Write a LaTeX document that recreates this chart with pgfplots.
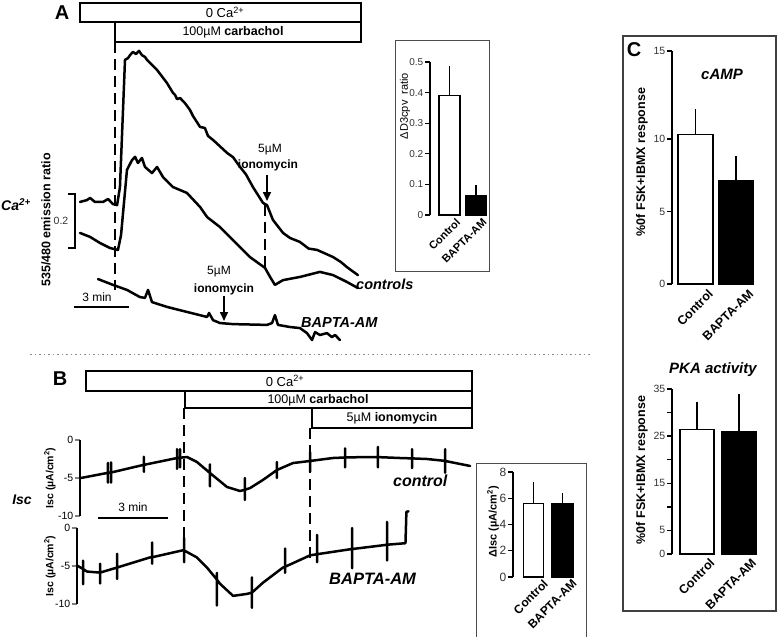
\documentclass[border=0pt]{standalone}
\usepackage{pgfplots}
\pgfplotsset{compat=1.18}
\usepackage{fontspec}
\setmainfont{Liberation Sans}
\usetikzlibrary{arrows.meta}
\newcommand{\fs}[1]{\fontsize{#1pt}{#1pt}\selectfont}

\pgfplotsset{
  trace/.style={scale only axis, axis lines=none, clip=false},
  tr/.style={black, line width=2.5pt, line join=round, line cap=round, no marks},
  baraxis/.style={scale only axis, anchor=south west, clip=false,
    axis y line*=left, axis x line*=bottom, x axis line style={draw=none},
    y axis line style={line width=1.5pt, black}, xtick style={draw=none},
    ytick style={line width=1.3pt, black}, tick align=outside, major tick length=5pt,
    y tick label style={font=\fs{10.5}, text=black!80, inner sep=1.5pt},
    xtick={1,2}, xticklabels={Control,BAPTA-AM}},
  xl/.style n args={3}{x tick label style={xshift=#1, yshift=#2, rotate=45, anchor=north east, font=\fs{#3}\bfseries, inner sep=1pt}},
  wbar/.style={ybar, bar shift=0pt, fill=white, draw=black, line width=1.6pt,
    error bars/y dir=plus, error bars/y explicit,
    error bars/error bar style={line width=1.6pt, black},
    error bars/error mark options={line width=1.6pt, black, mark size=#1}},
  wbar/.default=5.5pt,
  bbar/.style={ybar, bar shift=0pt, fill=black, draw=black, line width=1.6pt,
    error bars/y dir=plus, error bars/y explicit,
    error bars/error bar style={line width=1.6pt, black},
    error bars/error mark options={line width=1.6pt, black, mark size=#1}},
  bbar/.default=5.5pt,
  iscaxis/.style={scale only axis, anchor=south west, clip=false,
    axis y line*=left, axis x line=none, y axis line style={line width=1.5pt},
    ytick={-10,-5,0}, yticklabels={-10,-5,0}, tick align=outside, major tick length=5pt,
    ytick style={line width=1.3pt}, y tick label style={font=\fs{10.5}, inner sep=1.5pt}},
}

\begin{document}
\begin{tikzpicture}[x=1pt,y=1pt]
\path[use as bounding box] (0,0) rectangle (777,-637);

% ================= Panel A =================
\node[font=\fs{20}\bfseries] at (62,-13) {A};
\draw[line width=1.4pt] (80,-3) rectangle (361,-22);
\draw[line width=1.4pt] (115,-22) rectangle (361,-42);
\node[font=\fs{13}] at (225,-12.5) {0 Ca\textsuperscript{2+}};
\node[font=\fs{12.5}] at (233,-32) {100µM \textbf{carbachol}};
\draw[line width=1.3pt, dash pattern=on 11pt off 6pt] (115,-42) -- (115,-290);
\draw[line width=1.3pt, dash pattern=on 11pt off 6pt] (265,-205) -- (265,-268);

\begin{axis}[trace, at={(60pt,-350pt)}, anchor=south west, width=320pt, height=310pt,
  xmin=-1.111, xmax=16.667, ymin=-0.0377, ymax=1.132]
\addplot[tr] coordinates {(0.00,0.521) (0.39,0.528) (0.56,0.536) (0.83,0.521) (1.28,0.521) (1.56,0.532) (1.83,0.513) (2.06,0.509) (2.22,0.577) (2.50,1.057) (2.67,1.064) (2.78,1.075) (2.94,1.087) (3.11,1.079) (3.28,1.091) (3.44,1.075) (3.61,1.068) (3.72,1.057) (4.28,1.019) (4.83,0.970) (5.17,0.932) (5.28,0.925) (5.39,0.909) (5.56,0.913) (5.83,0.894) (6.11,0.868) (6.28,0.845) (6.67,0.804) (6.94,0.800) (7.11,0.770) (7.39,0.755) (8.17,0.706) (8.50,0.690) (8.89,0.653) (9.22,0.625) (9.61,0.577) (10.17,0.517) (10.39,0.509) (10.72,0.453) (11.28,0.404) (11.67,0.385) (12.22,0.370) (12.70,0.345) (13.17,0.340) (14.06,0.313) (14.50,0.294) (14.83,0.275) (15.44,0.245)};
\addplot[tr] coordinates {(0.00,0.404) (0.56,0.389) (1.11,0.366) (1.67,0.347) (2.11,0.340) (2.28,0.396) (2.61,0.642) (2.89,0.679) (3.06,0.691) (3.22,0.668) (3.44,0.687) (3.61,0.653) (4.00,0.630) (4.28,0.653) (4.61,0.615) (5.17,0.577) (5.94,0.555) (6.67,0.502) (7.06,0.464) (7.78,0.426) (8.50,0.377) (9.44,0.313) (10.28,0.272) (10.56,0.238) (10.83,0.208) (11.28,0.226) (12.22,0.238) (13.33,0.257) (14.06,0.245) (14.83,0.219) (15.44,0.196)};
\addplot[tr] coordinates {(1.00,0.230) (1.83,0.208) (2.61,0.189) (3.33,0.162) (3.61,0.159) (3.78,0.189) (4.00,0.143) (4.83,0.125) (5.94,0.106) (7.06,0.087) (7.17,0.102) (7.39,0.075) (7.78,0.064) (8.50,0.060) (10.39,0.057) (10.67,0.064) (10.83,0.094) (11.00,0.057) (11.67,0.049) (12.22,0.045) (12.61,0.026) (12.89,0.000) (13.06,0.030) (13.33,0.019) (13.72,0.026) (14.00,0.011) (14.17,0.019) (14.44,0.000)};
\end{axis}

\node[font=\fs{12}] at (270,-150) {5µM};
\node[font=\fs{12}\bfseries] at (268,-165) {ionomycin};
\draw[line width=1.6pt, -{Triangle[length=9pt,width=8pt]}] (267,-175) -- (267,-201);
\node[font=\fs{12}] at (219,-272) {5µM};
\node[font=\fs{12}\bfseries] at (224,-289) {ionomycin};
\draw[line width=1.6pt, -{Triangle[length=9pt,width=8pt]}] (224,-296) -- (224,-321);
\node[font=\fs{14.5}\bfseries\itshape, anchor=west, inner sep=0pt] at (356,-284) {controls};
\node[font=\fs{14.5}\bfseries\itshape, anchor=west, inner sep=0pt] at (301,-323) {BAPTA-AM};
\node[font=\fs{12}] at (97,-297) {3 min};
\draw[line width=2pt] (74,-307) -- (129,-307);
\draw[line width=1.4pt] (68,-194) -- (75,-194) -- (75,-248) -- (68,-248);
\node[font=\fs{10.5}, text=black!80] at (61,-221) {0.2};
\node[font=\fs{14}\bfseries\itshape, anchor=west, inner sep=0pt] at (1,-205) {Ca\textsuperscript{2+}};
\node[font=\fs{12.5}\bfseries, rotate=90] at (46,-220) {535/480 emission ratio};

% inset A
\draw[line width=1pt, black!70] (395,-40) rectangle (489,-271);
\node[font=\fs{11}, rotate=90] at (405,-106) {ΔD3cpv\ \ ratio};
\begin{axis}[baraxis, at={(430pt,-215pt)}, width=60pt, height=153pt,
  xmin=0.264, xmax=2.53, ymin=0, ymax=0.5,
  ytick={0,0.1,0.2,0.3,0.4,0.5}, yticklabels={0,0.1,0.2,0.3,0.4,0.5},
  y tick label style={font=\fs{10}}, xl={6pt}{4pt}{11}]
\addplot[wbar=5pt, bar width=21pt] coordinates {(1,0.39) +- (0,0.08)};
\addplot[bbar=5pt, bar width=21pt] coordinates {(2,0.062) +- (0,0.02)};
\end{axis}

% separator
\draw[black!45, line width=0.8pt, dash pattern=on 1.5pt off 3pt] (30,-354) -- (590,-354);

% ================= Panel B =================
\node[font=\fs{20}\bfseries] at (60,-379) {B};
\draw[line width=1.4pt] (86,-371) rectangle (472,-391);
\draw[line width=1.4pt] (185,-391) rectangle (472,-408);
\draw[line width=1.4pt] (312,-408) rectangle (472,-428);
\node[font=\fs{13}] at (285,-381) {0 Ca\textsuperscript{2+}};
\node[font=\fs{12.5}] at (318,-400) {100µM \textbf{carbachol}};
\node[font=\fs{12.5}] at (392,-418) {5µM \textbf{ionomycin}};
\draw[line width=1.3pt, dash pattern=on 11pt off 6pt] (184,-408) -- (184,-560);
\draw[line width=1.3pt, dash pattern=on 11pt off 6pt] (310,-428) -- (310,-562);

\begin{axis}[iscaxis, at={(80pt,-516pt)}, width=395pt, height=76pt,
  xmin=0, xmax=16.93, ymin=-10, ymax=0]
\addplot[tr] coordinates {(0.04,-5.0) (1.16,-4.34)
 (1.20,-4.33) (1.20,-3.0) (1.20,-5.6) (1.20,-4.33)
 (1.33,-4.28) (1.33,-2.95) (1.33,-5.6) (1.33,-4.28)
 (2.70,-3.29)
 (2.74,-3.27) (2.74,-2.2) (2.74,-4.2) (2.74,-3.27)
 (4.16,-2.37) (4.16,-1.2) (4.16,-3.8) (4.16,-2.37)
 (4.29,-2.33) (4.29,-1.2) (4.29,-3.6) (4.29,-2.33)
 (4.59,-2.24) (5.01,-2.89)
 (5.57,-4.34) (5.57,-3.2) (5.57,-6.1) (5.57,-4.34)
 (6.30,-6.18) (6.86,-6.71)
 (7.07,-6.55) (7.07,-5.0) (7.07,-7.9) (7.07,-6.55)
 (7.29,-6.32) (7.84,-5.26)
 (8.44,-3.95) (8.44,-2.9) (8.44,-5.0) (8.44,-3.95)
 (9.13,-3.03)
 (9.86,-2.76) (9.86,-1.6) (9.86,-4.2) (9.86,-2.76)
 (10.84,-2.37)
 (11.36,-2.3) (11.36,-1.1) (11.36,-3.6) (11.36,-2.3)
 (12.30,-2.24)
 (12.77,-2.25) (12.77,-0.9) (12.77,-3.6) (12.77,-2.25)
 (13.72,-2.37)
 (14.23,-2.42) (14.23,-1.2) (14.23,-3.7) (14.23,-2.42)
 (14.87,-2.50)
 (15.65,-2.75) (15.65,-1.2) (15.65,-4.3) (15.65,-2.75)
 (15.86,-2.89) (16.72,-3.42)};
\end{axis}

\begin{axis}[iscaxis, at={(77pt,-604pt)}, width=398pt, height=76pt,
  xmin=-0.129, xmax=16.93, ymin=-10, ymax=0]
\addplot[tr] coordinates {(-0.13,-4.93)
 (0.13,-5.4) (0.13,-4.3) (0.13,-7.4) (0.13,-5.4)
 (0.30,-5.73)
 (0.86,-5.87) (0.86,-4.7) (0.86,-7.3) (0.86,-5.87)
 (1.59,-5.2) (1.59,-3.4) (1.59,-6.7) (1.59,-5.2)
 (3.0,-3.87)
 (3.09,-3.85) (3.09,-1.9) (3.09,-4.7) (3.09,-3.85)
 (4.41,-2.93)
 (4.46,-2.95) (4.46,-1.3) (4.46,-4.5) (4.46,-2.95)
 (5.01,-3.87) (5.44,-5.2)
 (5.87,-6.8) (5.87,-5.9) (5.87,-10.2) (5.87,-6.8)
 (6.0,-7.33) (6.56,-8.93) (7.16,-8.67)
 (7.37,-8.5) (7.37,-6.5) (7.37,-10.5) (7.37,-8.5)
 (7.84,-7.2)
 (8.7,-5.2)
 (8.79,-5.1) (8.79,-2.7) (8.79,-5.9) (8.79,-5.1)
 (9.86,-3.6)
 (10.16,-3.45) (10.16,-0.9) (10.16,-4.5) (10.16,-3.45)
 (11.57,-2.8)
 (11.66,-2.77) (11.66,0.0) (11.66,-5.3) (11.66,-2.77)
 (12.99,-2.27)
 (13.16,-2.2) (13.16,0.8) (13.16,-4.27) (13.16,-2.2)
 (13.95,-2.0) (13.99,2.13) (14.08,2.2)};
\end{axis}

\node[font=\fs{12}] at (133,-507) {3 min};
\draw[line width=2pt] (98,-518) -- (168,-518);
\node[font=\fs{14}\bfseries\itshape] at (22,-500) {Isc};
\node[font=\fs{10.5}\bfseries, rotate=90] at (50,-478) {Isc (µA/cm\textsuperscript{2})};
\node[font=\fs{10.5}\bfseries, rotate=90] at (50,-566) {Isc (µA/cm\textsuperscript{2})};
\node[font=\fs{16}\bfseries\itshape, anchor=west, inner sep=0pt] at (393,-481) {control};
\node[font=\fs{16.5}\bfseries\itshape, anchor=west, inner sep=0pt] at (329,-579) {BAPTA-AM};

% inset B
\draw[line width=1pt, black!70] (476,-463) rectangle (586,-640);
\node[font=\fs{11}\bfseries, rotate=90] at (493,-522) {ΔIsc (µA/cm\textsuperscript{2})};
\begin{axis}[baraxis, at={(513pt,-577pt)}, width=64pt, height=105pt,
  xmin=0.286, xmax=2.5, ymin=0, ymax=8,
  ytick={0,2,4,6,8}, yticklabels={0,2,4,6,8},
  y tick label style={font=\fs{12}}, xl={9pt}{5pt}{12}]
\addplot[wbar=5pt, bar width=20pt] coordinates {(1,5.6) +- (0,1.27)};
\addplot[bbar=5pt, bar width=21pt] coordinates {(2,5.55) +- (0,0.45)};
\end{axis}

% ================= Panel C =================
\draw[line width=1.2pt, black!75] (623,-36) rectangle (776,-611);
\node[font=\fs{20}\bfseries] at (634,-50) {C};
\node[font=\fs{15}\bfseries\itshape] at (722,-74) {cAMP};
\node[font=\fs{12.5}\bfseries, rotate=90] at (642,-162) {\%0f FSK+IBMX response};
\begin{axis}[baraxis, at={(672pt,-284pt)}, width=84pt, height=233pt,
  xmin=0.427, xmax=2.49, ymin=0, ymax=16.07,
  ytick={0,5,10,16.07}, yticklabels={0,5,10,15}, xl={12pt}{2pt}{12.5}]
\addplot[wbar=6pt, bar width=35pt] coordinates {(1,10.3) +- (0,1.35)};
\addplot[bbar=6pt, bar width=35pt] coordinates {(2,7.1) +- (0,1.3)};
\end{axis}

\node[font=\fs{15}\bfseries\itshape] at (713,-370) {PKA activity};
\node[font=\fs{12.5}\bfseries, rotate=90] at (642,-470) {\%0f FSK+IBMX response};
\begin{axis}[baraxis, at={(672pt,-554pt)}, width=85pt, height=165pt,
  xmin=0.405, xmax=2.43, ymin=0, ymax=35,
  ytick={0,5,10,15,20,25,30,35}, yticklabels={0,5,,15,,25,,35}, xl={12pt}{3pt}{12.5}]
\addplot[wbar=6pt, bar width=34pt] coordinates {(1,26.45) +- (0,4.55)};
\addplot[bbar=6pt, bar width=34pt] coordinates {(2,25.9) +- (0,6.8)};
\end{axis}

\end{tikzpicture}
\end{document}
